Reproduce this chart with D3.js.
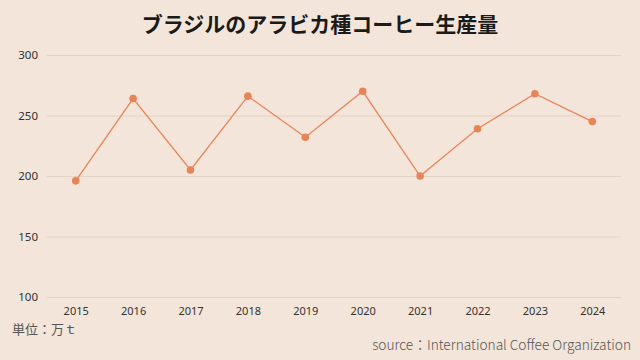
<!DOCTYPE html>
<html><head><meta charset="utf-8">
<script src="https://cdn.jsdelivr.net/npm/d3@7"></script>
<style>
html,body{margin:0;padding:0;background:#f3e5d9;}
svg{display:block;font-family:"Noto Sans CJK JP","Noto Sans",sans-serif;}
</style></head>
<body>
<svg id="c" width="640" height="360"></svg>
<script>
const years = ["2015","2016","2017","2018","2019","2020","2021","2022","2023","2024"];
const production = [196, 264, 205, 266, 232, 270, 200, 239, 268, 245];
const yTicks = [100, 150, 200, 250, 300];

const svg = d3.select("#c");
const W = 640, H = 360;
svg.append("rect").attr("width", W).attr("height", H).attr("fill", "#f3e5d9");

const m = {left: 47, right: 19, top: 55, bottom: 63};
const x = d3.scalePoint().domain(years).range([m.left, W - m.right]).padding(0.5);
const y = d3.scaleLinear().domain([100, 300]).range([H - m.bottom, m.top]);

svg.append("text").attr("x", 320).attr("y", 32).attr("text-anchor", "middle")
  .attr("font-size", 21).attr("font-weight", "bold").attr("fill", "#1a1a1a")
  .text("ブラジルのアラビカ種コーヒー生産量");

const yAxis = svg.append("g").attr("transform", `translate(${m.left},0)`)
  .call(d3.axisLeft(y).tickValues(yTicks).tickSize(-(W - m.left - m.right)).tickPadding(9));
yAxis.select(".domain").remove();
yAxis.selectAll(".tick line").attr("stroke", "#e3d3c5").attr("stroke-width", 1);
yAxis.selectAll(".tick text").attr("font-size", 11.5).attr("fill", "#333")
  .attr("font-family", "'Noto Sans','Noto Sans CJK JP',sans-serif");

const xAxis = svg.append("g").attr("transform", `translate(0,${H - m.bottom})`)
  .call(d3.axisBottom(x).tickSize(0).tickPadding(10));
xAxis.select(".domain").remove();
xAxis.selectAll(".tick text").attr("font-size", 11).attr("fill", "#333")
  .attr("font-family", "'Noto Sans','Noto Sans CJK JP',sans-serif");

const data = years.map((yr, i) => ({yr, v: production[i]}));
svg.append("path").datum(data)
  .attr("fill", "none").attr("stroke", "#e8845a").attr("stroke-width", 1.3)
  .attr("d", d3.line().x(d => x(d.yr)).y(d => y(d.v)));
svg.selectAll("circle.pt").data(data).enter().append("circle")
  .attr("cx", d => x(d.yr)).attr("cy", d => y(d.v)).attr("r", 3.8)
  .attr("fill", "#e8845a");

svg.append("text").attr("x", 12).attr("y", 334).attr("font-size", 13).attr("fill", "#555")
  .text("単位：万ｔ");
svg.append("text").attr("x", 631).attr("y", 350).attr("text-anchor", "end")
  .attr("font-size", 13.7).attr("font-weight", 300).attr("fill", "#555")
  .text("source：International Coffee Organization");
</script>
</body></html>
